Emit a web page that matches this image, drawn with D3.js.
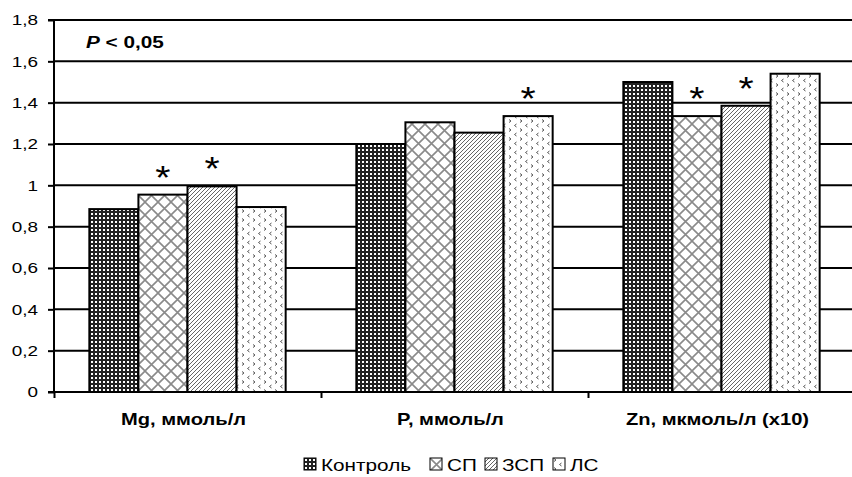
<!DOCTYPE html>
<html>
<head>
<meta charset="utf-8">
<script src="https://cdn.jsdelivr.net/npm/d3@7"></script>
<style>
  body { margin: 0; background: #fff; }
  text { font-family: "Liberation Sans", Arial, sans-serif; }
</style>
</head>
<body>
<svg id="chart" width="852" height="477"></svg>
<script>
// data
const categories = ["Mg, ммоль/л", "P, ммоль/л", "Zn, мкмоль/л (x10)"];
const series = ["Контроль", "СП", "ЗСП", "ЛС"];
const kontrol = [0.885, 1.20, 1.50];
const sp = [0.955, 1.305, 1.335];
const zsp = [0.995, 1.255, 1.385];
const ls = [0.895, 1.335, 1.54];
// which bars carry an asterisk (p < 0,05)
const starsKontrol = [false, false, false];
const starsSP = [true, false, true];
const starsZSP = [true, false, true];
const starsLS = [false, true, false];
const yTicks = [0, 0.2, 0.4, 0.6, 0.8, 1, 1.2, 1.4, 1.6, 1.8];

let values = [kontrol, sp, zsp, ls];
let stars = [starsKontrol, starsSP, starsZSP, starsLS];

// the original picture is a bit stretched sideways, so text gets the same stretch
const SX = 1.22;

let svg = d3.select("#chart");
let margin = {left: 54, top: 20, right: -3, bottom: 85};
let width = +svg.attr("width") - margin.left - margin.right;
let height = +svg.attr("height") - margin.top - margin.bottom;

let x0 = d3.scaleBand().domain(categories).range([0, width]).padding(0);
let x1 = d3.scaleBand().domain(series).range([0, x0.bandwidth()]).paddingInner(0).paddingOuter(0.72);
let y = d3.scaleLinear().domain([0, 1.8]).range([height, 0]);

// fill patterns, one per series
let defs = svg.append("defs");
// Контроль: dark checker
let p0 = defs.append("pattern").attr("id", "pat0").attr("patternUnits", "userSpaceOnUse")
    .attr("width", 4).attr("height", 4);
p0.append("rect").attr("width", 4).attr("height", 4).attr("fill", "#222");
p0.append("rect").attr("x", 1).attr("y", 1).attr("width", 2).attr("height", 2).attr("fill", "#fff");
// СП: grey diamond lattice
let p1 = defs.append("pattern").attr("id", "pat1").attr("patternUnits", "userSpaceOnUse")
    .attr("width", 13).attr("height", 13);
p1.append("rect").attr("width", 13).attr("height", 13).attr("fill", "#fff");
p1.append("path").attr("d", "M0,0 L13,13 M13,0 L0,13")
    .attr("stroke", "#8a8a8a").attr("stroke-width", 1.6);
// ЗСП: diagonal hatch
let p2 = defs.append("pattern").attr("id", "pat2").attr("patternUnits", "userSpaceOnUse")
    .attr("width", 4).attr("height", 4);
p2.append("rect").attr("width", 4).attr("height", 4).attr("fill", "#fff");
p2.append("path").attr("d", "M-1,1 L1,-1 M0,4 L4,0 M3,5 L5,3")
    .attr("stroke", "#666").attr("stroke-width", 1);
// ЛС: sparse little marks
let p3 = defs.append("pattern").attr("id", "pat3").attr("patternUnits", "userSpaceOnUse")
    .attr("width", 11).attr("height", 9);
p3.append("rect").attr("width", 11).attr("height", 9).attr("fill", "#fff");
p3.append("path").attr("d", "M1,0.5 L3,2 L1,3.5 M8.5,5 L6.5,6.5 L8.5,8")
    .attr("fill", "none").attr("stroke", "#555").attr("stroke-width", 1);
let fills = ["url(#pat0)", "url(#pat1)", "url(#pat2)", "url(#pat3)"];

let g = svg.append("g").attr("transform", `translate(${margin.left}, ${margin.top})`);

// gridlines
g.selectAll(".grid")
    .data(yTicks.filter(d => d > 0))
    .enter().append("line")
    .attr("x1", 0).attr("x2", width)
    .attr("y1", d => y(d)).attr("y2", d => y(d))
    .attr("stroke", "#000").attr("stroke-width", 2);

// bars
let groups = g.selectAll(".cat")
    .data(categories)
    .enter().append("g")
    .attr("transform", d => `translate(${x0(d)}, 0)`);

groups.selectAll("rect")
    .data((d, i) => series.map((s, j) => ({s: s, j: j, v: values[j][i], star: stars[j][i]})))
    .enter().append("rect")
    .attr("x", d => x1(d.s))
    .attr("y", d => y(d.v))
    .attr("width", x1.bandwidth())
    .attr("height", d => height - y(d.v))
    .attr("fill", d => fills[d.j])
    .attr("stroke", "#000")
    .attr("stroke-width", 2);

groups.selectAll(".star")
    .data((d, i) => series.map((s, j) => ({s: s, v: values[j][i], star: stars[j][i]})).filter(d => d.star))
    .enter().append("text")
    .attr("transform", d => `translate(${x1(d.s) + x1.bandwidth() / 2}, ${y(d.v) - 6}) scale(1.15, 1)`)
    .attr("text-anchor", "middle")
    .attr("font-size", 34)
    .text("*");

// y axis
let yAxis = g.append("g")
    .call(d3.axisLeft(y).tickValues(yTicks).tickSize(6).tickPadding(4)
        .tickFormat(d => d3.format("")(d).replace(".", ",")));
yAxis.select(".domain").attr("stroke-width", 2).attr("d", `M-6,${height}H0V0H-6`);
yAxis.selectAll(".tick line").attr("stroke-width", 2);
yAxis.selectAll(".tick text")
    .attr("x", -16 / SX)
    .attr("transform", `scale(${SX}, 1)`)
    .attr("font-size", 15.5).attr("fill", "#000")
    .style("font-family", "Liberation Sans, Arial, sans-serif");

// x axis: boundary ticks + baseline
let xb = d3.scaleLinear().domain([0, categories.length]).range([0, width]);
let xAxis = g.append("g").attr("transform", `translate(0, ${height})`)
    .call(d3.axisBottom(xb).tickValues([0, 1, 2]).tickSize(6).tickFormat(""));
xAxis.select(".domain").attr("stroke-width", 2).attr("d", `M0,0H${width}`);
xAxis.selectAll(".tick line").attr("stroke-width", 2);

// category labels
g.selectAll(".catlabel")
    .data(categories)
    .enter().append("text")
    .attr("transform", d => `translate(${x0(d) + x0.bandwidth() / 2 - 4}, ${height + 33}) scale(${SX}, 1)`)
    .attr("text-anchor", "middle")
    .attr("font-size", 16.5)
    .attr("font-weight", "bold")
    .text(d => d);

// significance note
let note = g.append("text")
    .attr("transform", `translate(32, 28) scale(${SX}, 1)`)
    .attr("font-size", 17).attr("font-weight", "bold");
note.append("tspan").attr("font-style", "italic").text("P");
note.append("tspan").text(" < 0,05");

// legend
let legendX = d3.scaleOrdinal().domain(series).range([304, 430, 485, 553]);
let legend = svg.selectAll(".legend-group")
    .data(series)
    .enter().append("g")
    .attr("class", "legend-group")
    .attr("transform", d => `translate(${legendX(d)}, 458)`);
legend.append("rect")
    .attr("width", 12).attr("height", 12)
    .attr("fill", (d, i) => fills[i])
    .attr("stroke", "#000").attr("stroke-width", 1);
legend.append("text")
    .attr("transform", `translate(17, 12.5) scale(${SX}, 1)`)
    .attr("font-size", 17)
    .text(d => d);
</script>
</body>
</html>
